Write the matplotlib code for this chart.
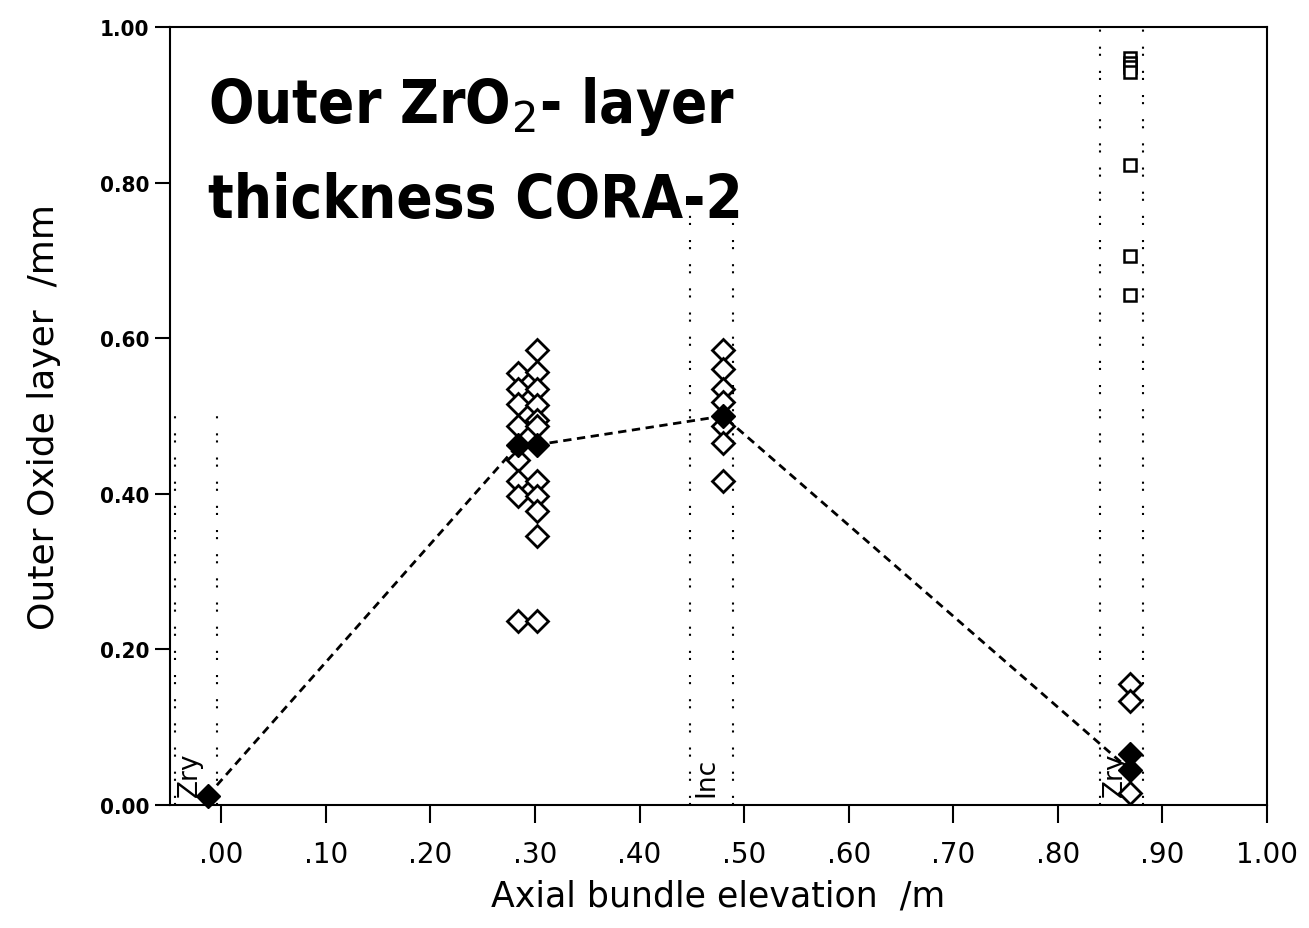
import matplotlib
matplotlib.use("Agg")
import matplotlib.pyplot as plt

# open diamonds (individual measurements)
x_open = [0.284] * 8 + [0.302] * 11 + [0.480] * 7 + [0.869] * 3
y_open = [0.555, 0.535, 0.515, 0.487, 0.443, 0.416, 0.397, 0.237,
          0.585, 0.557, 0.535, 0.514, 0.495, 0.417, 0.397, 0.378, 0.346, 0.237, 0.487,
          0.585, 0.560, 0.535, 0.518, 0.487, 0.465, 0.417,
          0.155, 0.134, 0.015]

# open squares (upper measurements at .87)
x_sq = [0.869] * 7
y_sq = [0.960, 0.954, 0.948, 0.942, 0.822, 0.706, 0.655]

# filled diamonds (mean values)
x_mean = [-0.013, 0.284, 0.302, 0.480, 0.869, 0.869]
y_mean = [0.012, 0.463, 0.463, 0.500, 0.066, 0.045]

# dashed mean line
x_line = [-0.013, 0.284, 0.302, 0.480, 0.869]
y_line = [0.012, 0.463, 0.463, 0.500, 0.045]

# material zone borders: (x, top)
zone_x = [-0.044, -0.004, 0.448, 0.489, 0.840, 0.881]
zone_top = [0.50, 0.50, 0.76, 0.76, 1.0, 1.0]
zone_names = ["Zry", "Inc", "Zry"]
zone_label_x = [-0.030, 0.464, 0.855]

x_ticks = [0.0, 0.1, 0.2, 0.3, 0.4, 0.5, 0.6, 0.7, 0.8, 0.9, 1.0]
x_ticklabels = [".00", ".10", ".20", ".30", ".40", ".50", ".60", ".70", ".80", ".90", "1.00"]
y_ticks = [0.0, 0.2, 0.4, 0.6, 0.8, 1.0]
y_ticklabels = ["0.00", "0.20", "0.40", "0.60", "0.80", "1.00"]

fig = plt.figure(figsize=(13.09, 9.29), dpi=100)
ax = fig.add_axes([170 / 1309, 1 - 806 / 929, (1267 - 170) / 1309, (806 - 28) / 929])

# zone borders
for xv, top in zip(zone_x, zone_top):
    ax.plot([xv, xv], [0, top], color="black", lw=1.5, linestyle=(0, (1, 2.4, 1, 7.2)))

for name, xv in zip(zone_names, zone_label_x):
    ax.text(xv, 0.012, name, rotation=90, ha="center", va="bottom", fontsize=19)

ax.plot(x_line, y_line, color="black", lw=2, linestyle=(0, (3, 2)), zorder=3)

ax.plot(x_open, y_open, linestyle="none", marker="D", ms=11, mfc="white",
        mec="black", mew=2, zorder=4)
ax.plot(x_sq, y_sq, linestyle="none", marker="s", ms=8, mfc="white",
        mec="black", mew=1.8, zorder=4)
ax.plot(x_mean, y_mean, linestyle="none", marker="D", ms=12, mfc="black",
        mec="black", zorder=5, clip_on=False)

ax.set_xlim(-0.049, 1.0)
ax.set_ylim(0, 1.0)
ax.set_xticks(x_ticks)
ax.set_xticklabels(x_ticklabels, fontsize=20)
ax.set_yticks(y_ticks)
ax.set_yticklabels(y_ticklabels, fontsize=16, fontstretch="condensed", fontweight="bold")
ax.tick_params(axis="x", direction="out", length=13, width=1.5, pad=12)
ax.tick_params(axis="y", direction="out", length=11, width=1.5, pad=4)
for s in ax.spines.values():
    s.set_linewidth(1.5)

ax.set_xlabel("Axial bundle elevation  /m", fontsize=25, labelpad=8)
ax.set_ylabel("Outer Oxide layer  /mm", fontsize=26, labelpad=28)

ax.text(0.035, 0.94, "Outer ZrO$_2$- layer", fontsize=43, fontweight="bold",
        fontstretch="condensed", ha="left", va="top", transform=ax.transAxes)
ax.text(0.035, 0.815, "thickness CORA-2", fontsize=43, fontweight="bold",
        fontstretch="condensed", ha="left", va="top", transform=ax.transAxes)

fig.savefig("out.png", dpi=100)
